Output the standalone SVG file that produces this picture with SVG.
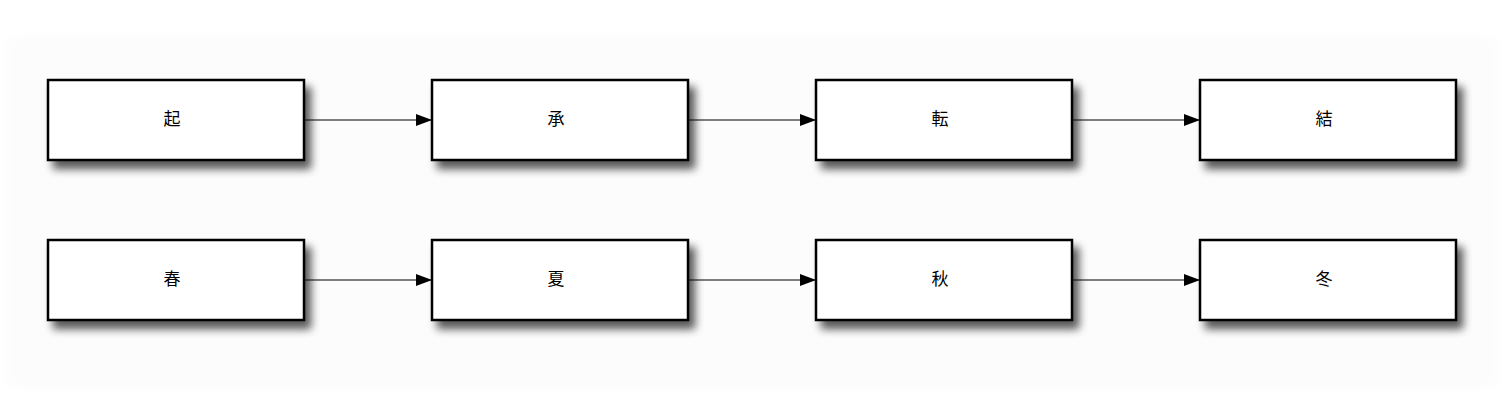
<svg xmlns="http://www.w3.org/2000/svg" width="1504" height="400" viewBox="0 0 1504 400">
<defs>
<filter id="bgblur" x="-5%" y="-20%" width="110%" height="140%"><feGaussianBlur stdDeviation="8"/></filter>
<filter id="shadow" x="-10%" y="-30%" width="130%" height="180%">
<feGaussianBlur in="SourceAlpha" stdDeviation="4"/>
<feOffset dx="6" dy="8" result="b"/>
<feComponentTransfer in="b" result="s"><feFuncA type="linear" slope="0.65"/></feComponentTransfer>
<feMerge><feMergeNode in="s"/><feMergeNode in="SourceGraphic"/></feMerge>
</filter>
<marker id="arr" markerWidth="16" markerHeight="12" refX="16" refY="6" orient="auto" markerUnits="userSpaceOnUse">
<path d="M0,0 L16,6 L0,12 Z" fill="#000"/>
</marker>
<style>
.box{fill:#fff;stroke:#000;stroke-width:2.5;filter:url(#shadow)}
.lbl{font-family:"Noto Sans CJK JP","Noto Sans CJK SC",sans-serif;font-size:17px;text-anchor:middle;dominant-baseline:central;fill:#000}
.edge{stroke:#000;stroke-width:1.2;fill:none;marker-end:url(#arr)}
</style>
</defs>
<rect width="1504" height="400" fill="#fff"/>
<rect x="8" y="36" width="1490" height="352" fill="#fcfcfc" filter="url(#bgblur)"/>
<g id="connectors">
<line class="edge" x1="304" y1="120" x2="432" y2="120"/>
<line class="edge" x1="688" y1="120" x2="816" y2="120"/>
<line class="edge" x1="1072" y1="120" x2="1200" y2="120"/>
<line class="edge" x1="304" y1="280" x2="432" y2="280"/>
<line class="edge" x1="688" y1="280" x2="816" y2="280"/>
<line class="edge" x1="1072" y1="280" x2="1200" y2="280"/>
</g>
<g id="n_ki"><rect class="box" x="48" y="80" width="256" height="80"/><text class="lbl" x="172" y="117">起</text></g>
<g id="n_sho"><rect class="box" x="432" y="80" width="256" height="80"/><text class="lbl" x="556" y="117">承</text></g>
<g id="n_ten"><rect class="box" x="816" y="80" width="256" height="80"/><text class="lbl" x="940" y="117">転</text></g>
<g id="n_ketsu"><rect class="box" x="1200" y="80" width="256" height="80"/><text class="lbl" x="1324" y="117">結</text></g>
<g id="n_haru"><rect class="box" x="48" y="240" width="256" height="80"/><text class="lbl" x="172" y="277">春</text></g>
<g id="n_natsu"><rect class="box" x="432" y="240" width="256" height="80"/><text class="lbl" x="556" y="277">夏</text></g>
<g id="n_aki"><rect class="box" x="816" y="240" width="256" height="80"/><text class="lbl" x="940" y="277">秋</text></g>
<g id="n_fuyu"><rect class="box" x="1200" y="240" width="256" height="80"/><text class="lbl" x="1324" y="277">冬</text></g>
</svg>
